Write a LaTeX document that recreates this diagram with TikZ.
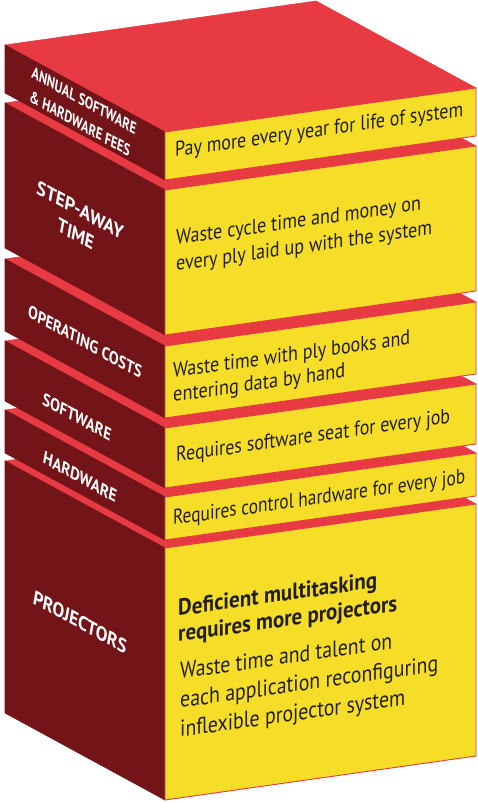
\documentclass[tikz,border=0pt]{standalone}
\usepackage{graphicx}
\usepackage{fontspec}
\setmainfont{PT Sans}
\definecolor{topred}{RGB}{231,58,67}
\definecolor{darkred}{RGB}{115,20,25}
\definecolor{yel}{RGB}{246,222,40}
\definecolor{txt}{RGB}{35,31,32}
\newcommand\fitx[2]{\resizebox{#1pt}{\height}{#2}}
\tikzset{
  topface/.style={fill=topred, draw=topred, line width=0.6pt, line join=round},
  leftface/.style={fill=darkred, draw=darkred, line width=0.6pt, line join=round},
  rightface/.style={fill=yel, draw=topred, line width=0.9pt, line join=round},
  rtext/.style={anchor=base west, inner sep=0pt, text=txt,
    font=\fontsize{21}{24}\selectfont, cm={1,0.142,0,1,(0,0)}},
  rbig/.style={rtext, font=\fontsize{23}{26}\selectfont},
  rbold/.style={rtext, font=\bfseries\fontsize{23}{26}\selectfont},
  ltext/.style={align=center, inner sep=0pt, text=white,
    cm={1,-0.55,0.18,1,(0,0)}}
}
\newcommand\myslab[2]{%
  \fill[topface] (5,#1-87) -- (316,#1-131) -- (476,#1-44) -- (165,#1) -- cycle;
  \fill[leftface] (5,#1-87) -- (165,#1) -- (165,#2) -- (5,#2-87) -- cycle;
  \filldraw[rightface] (165,#1) -- (476,#1-44) -- (476,#2-44) -- (165,#2) -- cycle;
}
\begin{document}
\begin{tikzpicture}[x=1pt,y=-1pt]
\useasboundingbox (0,0) rectangle (477,803);
% slabs from bottom to top
\myslab{548}{800}
\myslab{497}{540}
\myslab{428}{488}
\myslab{346}{418}
\myslab{190}{335}
\myslab{132}{180}
% left labels
\node[ltext, font=\bfseries\fontsize{16}{23}\selectfont] (l1) at (82,112)
  {\fitx{104}{ANNUAL SOFTWARE}\\\fitx{100}{\& HARDWARE FEES}};
\node[ltext, font=\bfseries\fontsize{19}{24}\selectfont] (l2) at (78,222)
  {\fitx{86}{STEP-AWAY}\\\fitx{36}{TIME}};
\node[ltext, font=\bfseries\fontsize{17}{20}\selectfont] (l3) at (85,342) {\fitx{113}{OPERATING COSTS}};
\node[ltext, font=\bfseries\fontsize{17}{20}\selectfont] (l4) at (77,417) {\fitx{68}{SOFTWARE}};
\node[ltext, font=\bfseries\fontsize{17}{20}\selectfont] (l5) at (80,477) {\fitx{73}{HARDWARE}};
\node[ltext, font=\bfseries\fontsize{19}{20}\selectfont] (l6) at (80,622) {\fitx{93}{PROJECTORS}};
% right texts
\node[rtext] (r1) at (175,157) {\fitx{288}{Pay more every year for life of system}};
\node[rtext] (r2a) at (176,245) {\fitx{245}{Waste cycle time and money on}};
\node[rtext] (r2b) at (176,271) {\fitx{256}{every ply laid up with the system}};
\node[rtext] (r3a) at (173,378) {\fitx{237}{Waste time with ply books and}};
\node[rtext] (r3b) at (173,402) {\fitx{172}{entering data by hand}};
\node[rtext] (r4) at (176,462) {\fitx{274}{Requires software seat for every job}};
\node[rtext] (r5) at (173,525) {\fitx{292}{Requires control hardware for every job}};
\node[rbold] (r6a) at (178,616) {\fitx{199}{Deficient multitasking}};
\node[rbold] (r6b) at (178,642) {\fitx{219}{requires more projectors}};
\node[rbig] (r6c) at (180,679) {\fitx{212}{Waste time and talent on}};
\node[rbig] (r6d) at (180,708) {\fitx{258}{each application reconfiguring}};
\node[rbig] (r6e) at (180,737) {\fitx{225}{inflexible projector system}};
\end{tikzpicture}
\end{document}
